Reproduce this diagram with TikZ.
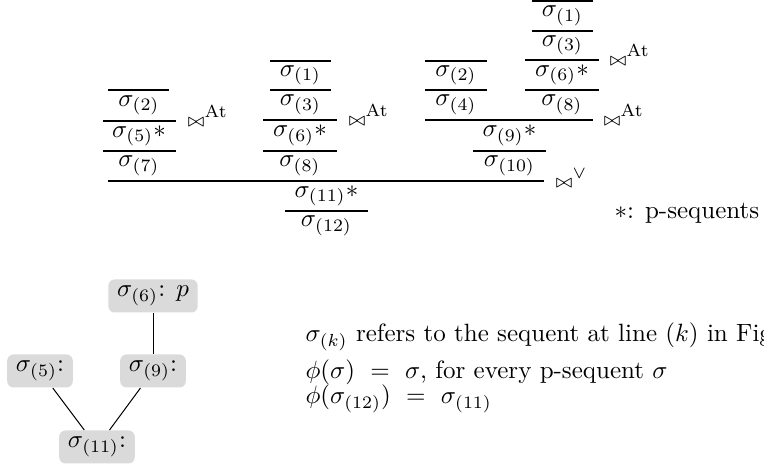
\documentclass[tikz,border=0pt]{standalone}
\definecolor{nodegray}{RGB}{218,218,218}
\newcommand{\smallbowtie}{{\scriptstyle\bowtie}}
\begin{document}
\begin{tikzpicture}[x=0.4pt,y=-0.4pt,
  seq/.style={inner sep=0pt},
  rl/.style={line width=0.45pt},
  lab/.style={anchor=base west, inner sep=0pt},
  txt/.style={anchor=base west, inner sep=0pt},
  tnode/.style={fill=nodegray, rounded corners=2.5pt, inner xsep=3.5pt, inner ysep=0pt, minimum height=13.2pt},
  tedge/.style={line width=0.4pt}]
\useasboundingbox (0,0) rectangle (764,470);
\clip (0,0) rectangle (764,470);
% left group
\draw[rl] (108,90) -- (169,90);
\draw[rl] (103,121) -- (176,121);
\draw[rl] (103,151) -- (176,151);
\node[seq] (a2) at (139,105.5) {$\sigma_{(2)}$};
\node[seq] (a5) at (139,136) {$\sigma_{(5)}{\ast}$};
\node[seq] (a7) at (139,166) {$\sigma_{(7)}$};
\node[lab] (la) at (187,127) {$\smallbowtie^{\mathrm{At}}$};
% middle group
\draw[rl] (270,61) -- (331,61);
\draw[rl] (270,90) -- (331,90);
\draw[rl] (263,120) -- (337,120);
\draw[rl] (263,151) -- (337,151);
\node[seq] (b1) at (300.5,75.5) {$\sigma_{(1)}$};
\node[seq] (b3) at (300.5,105) {$\sigma_{(3)}$};
\node[seq] (b6) at (300,135.5) {$\sigma_{(6)}{\ast}$};
\node[seq] (b8) at (300,166) {$\sigma_{(8)}$};
\node[lab] (lb) at (348,126) {$\smallbowtie^{\mathrm{At}}$};
% right group, upper branch
\draw[rl] (532,1) -- (593,1);
\draw[rl] (532,31) -- (593,31);
\draw[rl] (525,60) -- (599,60);
\draw[rl] (525,90) -- (599,90);
\node[seq] (c1) at (562.5,16) {$\sigma_{(1)}$};
\node[seq] (c3) at (562.5,45.5) {$\sigma_{(3)}$};
\node[seq] (c6) at (562,75) {$\sigma_{(6)}{\ast}$};
\node[seq] (c8) at (562,105) {$\sigma_{(8)}$};
\node[lab] (lc) at (609,66) {$\smallbowtie^{\mathrm{At}}$};
% right group, left branch
\draw[rl] (425,61) -- (487,61);
\draw[rl] (425,90) -- (487,90);
\node[seq] (d2) at (456,75.5) {$\sigma_{(2)}$};
\node[seq] (d4) at (456,105) {$\sigma_{(4)}$};
\draw[rl] (425,120) -- (593,120);
\node[lab] (ld) at (603,126) {$\smallbowtie^{\mathrm{At}}$};
\node[seq] (e9) at (509.5,135.5) {$\sigma_{(9)}{\ast}$};
\draw[rl] (473,151) -- (546,151);
\node[seq] (e10) at (509.5,166) {$\sigma_{(10)}$};
% bottom
\draw[rl] (108,181) -- (544,181);
\node[lab] (lv) at (555,188) {$\smallbowtie^{\vee}$};
\node[seq] (f11) at (326.5,196) {$\sigma_{(11)}{\ast}$};
\draw[rl] (285,211) -- (368,211);
\node[seq] (f12) at (326.5,226) {$\sigma_{(12)}$};
\node[anchor=west, inner sep=0pt] (note) at (614,213) {$\ast$: p-sequents};
% tree
\node[tnode] (t6) at (153,296) {$\sigma_{(6)}$: $p$};
\node[tnode] (t5) at (40,371) {$\sigma_{(5)}$:};
\node[tnode] (t9) at (153,371) {$\sigma_{(9)}$:};
\node[tnode] (t11) at (97,447) {$\sigma_{(11)}$:};
\draw[tedge] (t6) -- (t9);
\draw[tedge] (t5) -- (t11);
\draw[tedge] (t9) -- (t11);
% explanations
\node[txt] (r1) at (305,342) {$\sigma_{(k)}$ refers to the sequent at line $(k)$ in Fig};
\node[txt] (r2) at (305,379) {$\phi(\sigma)\ =\ \sigma$, for every p-sequent $\sigma$};
\node[txt] (r3) at (305,404) {$\phi(\sigma_{(12)})\ =\ \sigma_{(11)}$};
\end{tikzpicture}
\end{document}
